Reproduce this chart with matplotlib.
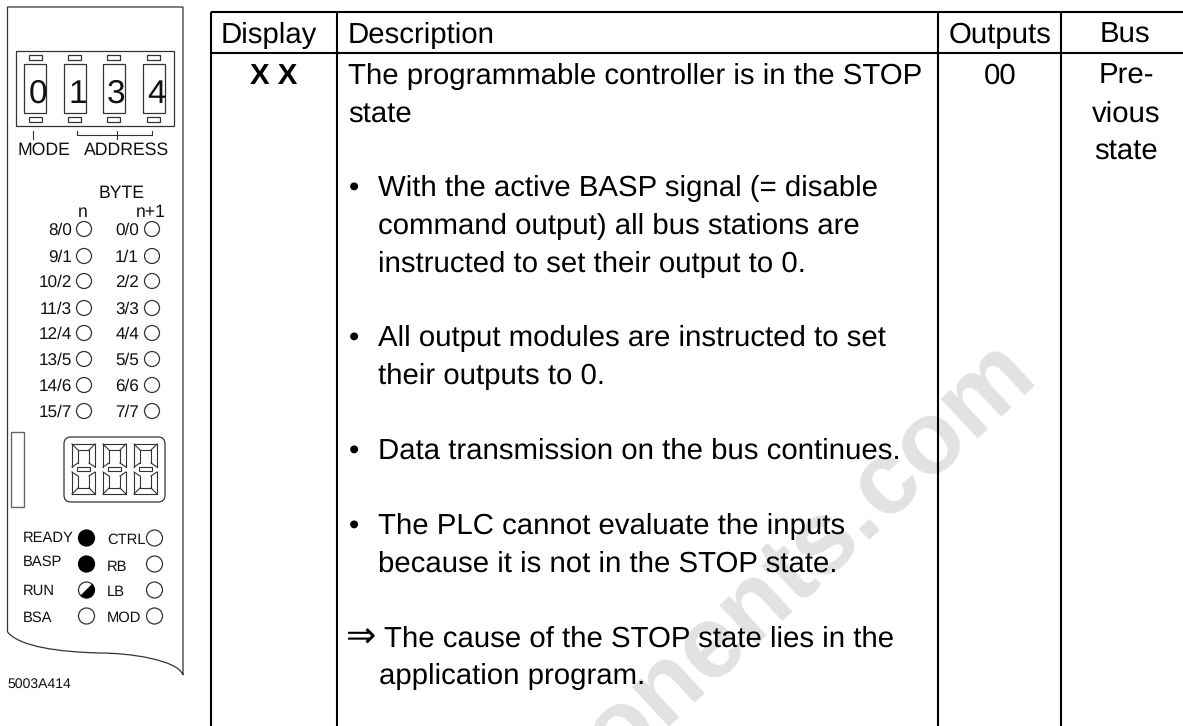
import matplotlib
matplotlib.use('Agg')
import matplotlib.pyplot as plt
from matplotlib.patches import Rectangle, Circle, Wedge, FancyBboxPatch, PathPatch
from matplotlib.path import Path

plt.rcParams['font.family'] = ['Liberation Sans', 'DejaVu Sans']
plt.rcParams['text.hinting'] = 'no_hinting'

# --- Table contents
headers = ['Display', 'Description', 'Outputs', 'Bus']
display_value = 'X X'
outputs_value = '00'
bus_lines = ['Pre-', 'vious', 'state']
arrow_sign = '⇒'
description_lines = [
    ('The programmable controller is in the STOP', 348, 84),
    ('state', 348, 123),
    ('•', 349, 196),
    ('With the active BASP signal (= disable', 378, 196),
    ('command output) all bus stations are', 378, 234),
    ('instructed to set their output to 0.', 378, 272),
    ('•', 349, 346),
    ('All output modules are instructed to set', 378, 346),
    ('their outputs to 0.', 378, 384),
    ('•', 349, 459),
    ('Data transmission on the bus continues.', 378, 459),
    ('•', 349, 534),
    ('The PLC cannot evaluate the inputs', 378, 534),
    ('because it is not in the STOP state.', 378, 572),
    ('The cause of the STOP state lies in the', 384, 647),
    ('application program.', 379, 684),
]

# --- Module panel contents
switch_digits = ['0', '1', '3', '4']
byte_left = ['8/0', '9/1', '10/2', '11/3', '12/4', '13/5', '14/6', '15/7']
byte_right = ['0/0', '1/1', '2/2', '3/3', '4/4', '5/5', '6/6', '7/7']
byte_rows = [229, 256, 281, 308, 333, 359, 385, 411]
status_left = ['READY', 'BASP', 'RUN', 'BSA']
status_left_state = ['on', 'on', 'half', 'off']
status_right = ['CTRL', 'RB', 'LB', 'MOD']
status_rows = [538, 564, 590, 616]
figure_code = '5003A414'

grey = '#333333'

fig = plt.figure(figsize=(11.83, 7.26), dpi=100)
ax = fig.add_axes([0, 0, 1, 1])
ax.set_xlim(0, 1183)
ax.set_ylim(726, 0)
ax.axis('off')

# --- Watermark (underneath everything)
ax.text(1040, 377, 'components.com', fontsize=74, fontweight='bold', color='#e2e2e2',
        rotation=43, rotation_mode='anchor', ha='right', va='baseline', zorder=0)

# --- Table grid
for x in [211, 337.5, 938.5, 1061]:
    ax.plot([x, x], [12, 726], color='black', lw=1.5, solid_capstyle='butt', zorder=2)
for y in [12, 52.5]:
    ax.plot([211, 1183], [y, y], color='black', lw=1.5, solid_capstyle='butt', zorder=2)

main_size = 21.2
ax.text(221, 43, headers[0], fontsize=main_size)
ax.text(348, 43, headers[1], fontsize=main_size)
ax.text(1000, 43, headers[2], fontsize=main_size, ha='center')
ax.text(1125, 43, headers[3], fontsize=main_size, ha='center')
ax.text(274, 84, display_value, fontsize=main_size, fontweight='bold', ha='center')
ax.text(1000, 84, outputs_value, fontsize=main_size, ha='center')
for line, y in zip(bus_lines, [84, 122, 160]):
    ax.text(1126, y, line, fontsize=main_size, ha='center')
for line, x, y in description_lines:
    ax.text(x, y, line, fontsize=main_size)
ax.text(346, 648, arrow_sign, fontsize=26)

# --- Panel outline
panel = Path([(7.5, 632), (7.5, 7), (183, 7), (183, 675), (178, 660), (130, 653), (100, 653),
              (60, 652), (20, 647), (7.5, 632)],
             [Path.MOVETO, Path.LINETO, Path.LINETO, Path.LINETO, Path.CURVE4, Path.CURVE4,
              Path.LINETO, Path.CURVE4, Path.CURVE4, Path.CURVE4])
ax.add_patch(PathPatch(panel, fc='none', ec=grey, lw=0.9))

# --- Address switch
ax.add_patch(Rectangle((16, 51), 158, 75, fc='none', ec=grey, lw=0.9))
for digit, x in zip(switch_digits, [24.5, 64, 103, 143]):
    ax.add_patch(Rectangle((x, 64), 22, 49, fc='none', ec=grey, lw=0.9))
    ax.add_patch(Rectangle((x + 4.5, 55), 13, 5, fc='none', ec=grey, lw=0.9))
    ax.add_patch(Rectangle((x + 4.5, 117), 13, 5, fc='none', ec=grey, lw=0.9))
    ax.text(x + 13.5, 103, digit, fontsize=24, ha='center', color='#111111')

ax.plot([33.5, 33.5], [131, 139], color=grey, lw=0.8)
ax.plot([77, 77, 152, 152], [131, 135, 135, 131], color=grey, lw=0.8)
ax.plot([117, 117], [131, 139], color=grey, lw=0.8)
ax.text(18, 155, 'MODE', fontsize=12.7, color='#111111')
ax.text(84, 155, 'ADDRESS', fontsize=12.7, color='#111111')
ax.text(99, 198, 'BYTE', fontsize=12.7, color='#111111')
ax.text(83, 217, 'n', fontsize=12.7, ha='center', color='#111111')
ax.text(151, 217, 'n+1', fontsize=12.7, ha='center', color='#111111')

# --- Byte LEDs
for left, right, y in zip(byte_left, byte_right, byte_rows):
    ax.text(72, y + 6, left, fontsize=12.3, ha='right', color='#111111')
    ax.text(139, y + 6, right, fontsize=12.3, ha='right', color='#111111')
    ax.add_patch(Circle((84, y), 7.5, fc='none', ec=grey, lw=0.9))
    ax.add_patch(Circle((152, y), 7.5, fc='none', ec=grey, lw=0.9))

# --- Seven segment display
ax.add_patch(Rectangle((11.5, 432), 13, 75, fc='none', ec='#666666', lw=1))
ax.add_patch(FancyBboxPatch((68, 441), 93, 57, boxstyle='round,pad=4,rounding_size=7',
                            fc='none', ec=grey, lw=0.9))
for x in [72, 103, 134]:
    ax.plot([x, x + 23], [444, 444], color=grey, lw=0.8)
    ax.plot([x, x + 23], [494, 494], color=grey, lw=0.8)
    ax.plot([x + 6, x + 17], [450, 450], color=grey, lw=0.8)
    ax.plot([x + 6, x + 17], [488, 488], color=grey, lw=0.8)
    for cx, ix in [(x, x + 6), (x + 23, x + 17)]:
        ax.plot([cx, ix], [444, 450], color=grey, lw=0.8)
        ax.plot([cx, ix], [494, 488], color=grey, lw=0.8)
        ax.plot([cx, cx], [444, 467], color=grey, lw=0.8)
        ax.plot([cx, cx], [472, 494], color=grey, lw=0.8)
        ax.plot([ix, ix], [450, 463], color=grey, lw=0.8)
        ax.plot([ix, ix], [476, 488], color=grey, lw=0.8)
        ax.plot([cx, ix], [467, 463], color=grey, lw=0.8)
        ax.plot([cx, ix], [472, 476], color=grey, lw=0.8)
    ax.add_patch(Rectangle((x + 5, 467), 13, 4, fc='white', ec=grey, lw=0.8, zorder=3))

# --- Status LEDs
for name, state, y, dy in zip(status_left, status_left_state, status_rows, [4, 2, 5, 6]):
    ax.text(23, y + dy, name, fontsize=10.6, color='#111111')
    if state == 'on':
        ax.add_patch(Circle((86.5, y), 8, fc='black', ec='black', lw=0.9))
    else:
        ax.add_patch(Circle((86.5, y), 8, fc='white', ec=grey, lw=0.9))
    if state == 'half':
        ax.add_patch(Wedge((86.5, y), 8, -45, 135, fc='black', ec='black', lw=0.5, zorder=3))
for name, y, dy in zip(status_right, status_rows, [6, 7, 6, 6]):
    ax.text(107, y + dy, name, fontsize=10.6, color='#111111')
    ax.add_patch(Circle((154.5, y), 8, fc='none', ec=grey, lw=0.9))

ax.text(7, 688, figure_code, fontsize=10.1, color='#111111')

fig.savefig('out.png', dpi=100)
